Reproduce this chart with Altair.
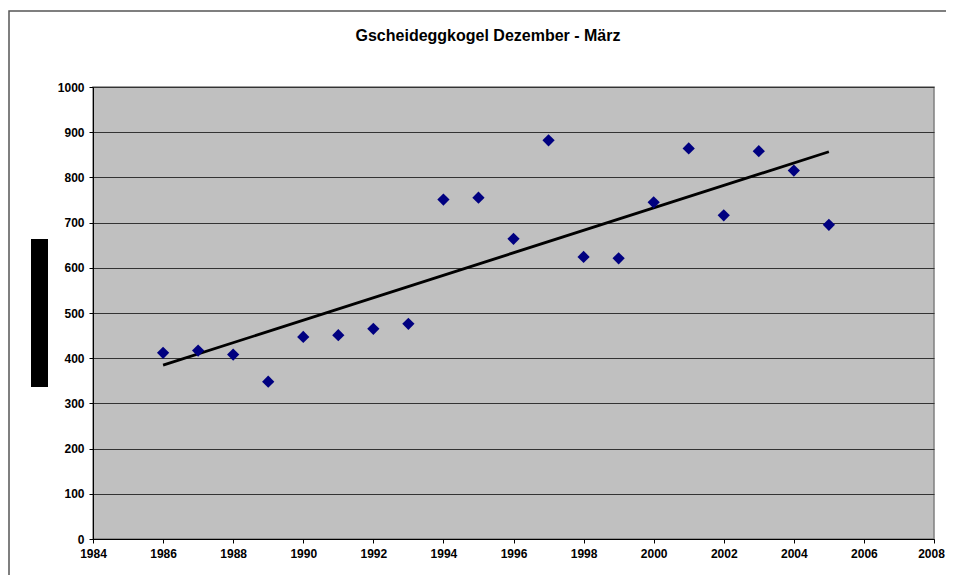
import altair as alt
import pandas as pd

years = [1986, 1987, 1988, 1989, 1990, 1991, 1992, 1993, 1994, 1995,
         1996, 1997, 1998, 1999, 2000, 2001, 2002, 2003, 2004, 2005]
values = [412, 417, 408, 348, 447, 451, 465, 476, 751, 755,
          664, 882, 624, 621, 745, 864, 716, 858, 815, 695]
x_ticks = list(range(1984, 2009, 2))
y_ticks = list(range(0, 1001, 100))
title_text = "Gscheideggkogel Dezember - März"

df = pd.DataFrame({"Jahr": years, "Wert": values})
one = pd.DataFrame({"t": [title_text]})

FONT = "Liberation Sans"

x_enc = alt.X("Jahr:Q", scale=alt.Scale(domain=[1984, 2008], nice=False, zero=False),
              axis=alt.Axis(values=x_ticks, format="d", title=None, grid=False,
                            labelFont=FONT, labelFontWeight="bold", labelFontSize=12,
                            labelColor="black", tickColor="black", tickSize=4,
                            labelPadding=5, domainColor="black", labelFlush=False,
                            labelOffset={"expr": "datum.value == 2008 ? -3 : 0"}))
y_enc = alt.Y("Wert:Q", scale=alt.Scale(domain=[0, 1000], nice=False),
              axis=alt.Axis(values=y_ticks, format="d", title=None, grid=True,
                            gridColor="#333333", gridWidth=1, labelFont=FONT,
                            labelFontWeight="bold", labelFontSize=12, labelColor="black",
                            tickColor="black", tickSize=4, labelPadding=5,
                            domainColor="black"))

frame = alt.Chart(one).mark_rect(fill="transparent", stroke="#555555", strokeWidth=1.5).encode(
    x=alt.value(-84), x2=alt.value(1100), y=alt.value(-76), y2=alt.value(1100))

blackbox = alt.Chart(one).mark_rect(color="black").encode(
    x=alt.value(-62), x2=alt.value(-45), y=alt.value(152), y2=alt.value(300))

title = alt.Chart(one).mark_text(font=FONT, fontWeight="bold", fontSize=16, color="black",
                                 align="center", baseline="middle").encode(
    text="t:N", x=alt.value(395), y=alt.value(-51))

points = alt.Chart(df).mark_point(shape="diamond", filled=True, color="#000080",
                                  size=150, opacity=1).encode(x=x_enc, y=y_enc)

trend = alt.Chart(df).mark_line(color="black", strokeWidth=2.8).transform_regression(
    "Jahr", "Wert").encode(x=x_enc, y=y_enc)

chart = alt.layer(frame, blackbox, title, trend, points).properties(
    width=841, height=452,
    background="white",
    autosize=alt.AutoSizeParams(type="none"),
    padding={"left": 85, "top": 79, "right": 12, "bottom": 36},
).configure_view(fill="#C0C0C0", stroke="#808080", strokeWidth=1.5)

chart.save("out.html", embed_options={"renderer": "svg", "actions": False})
